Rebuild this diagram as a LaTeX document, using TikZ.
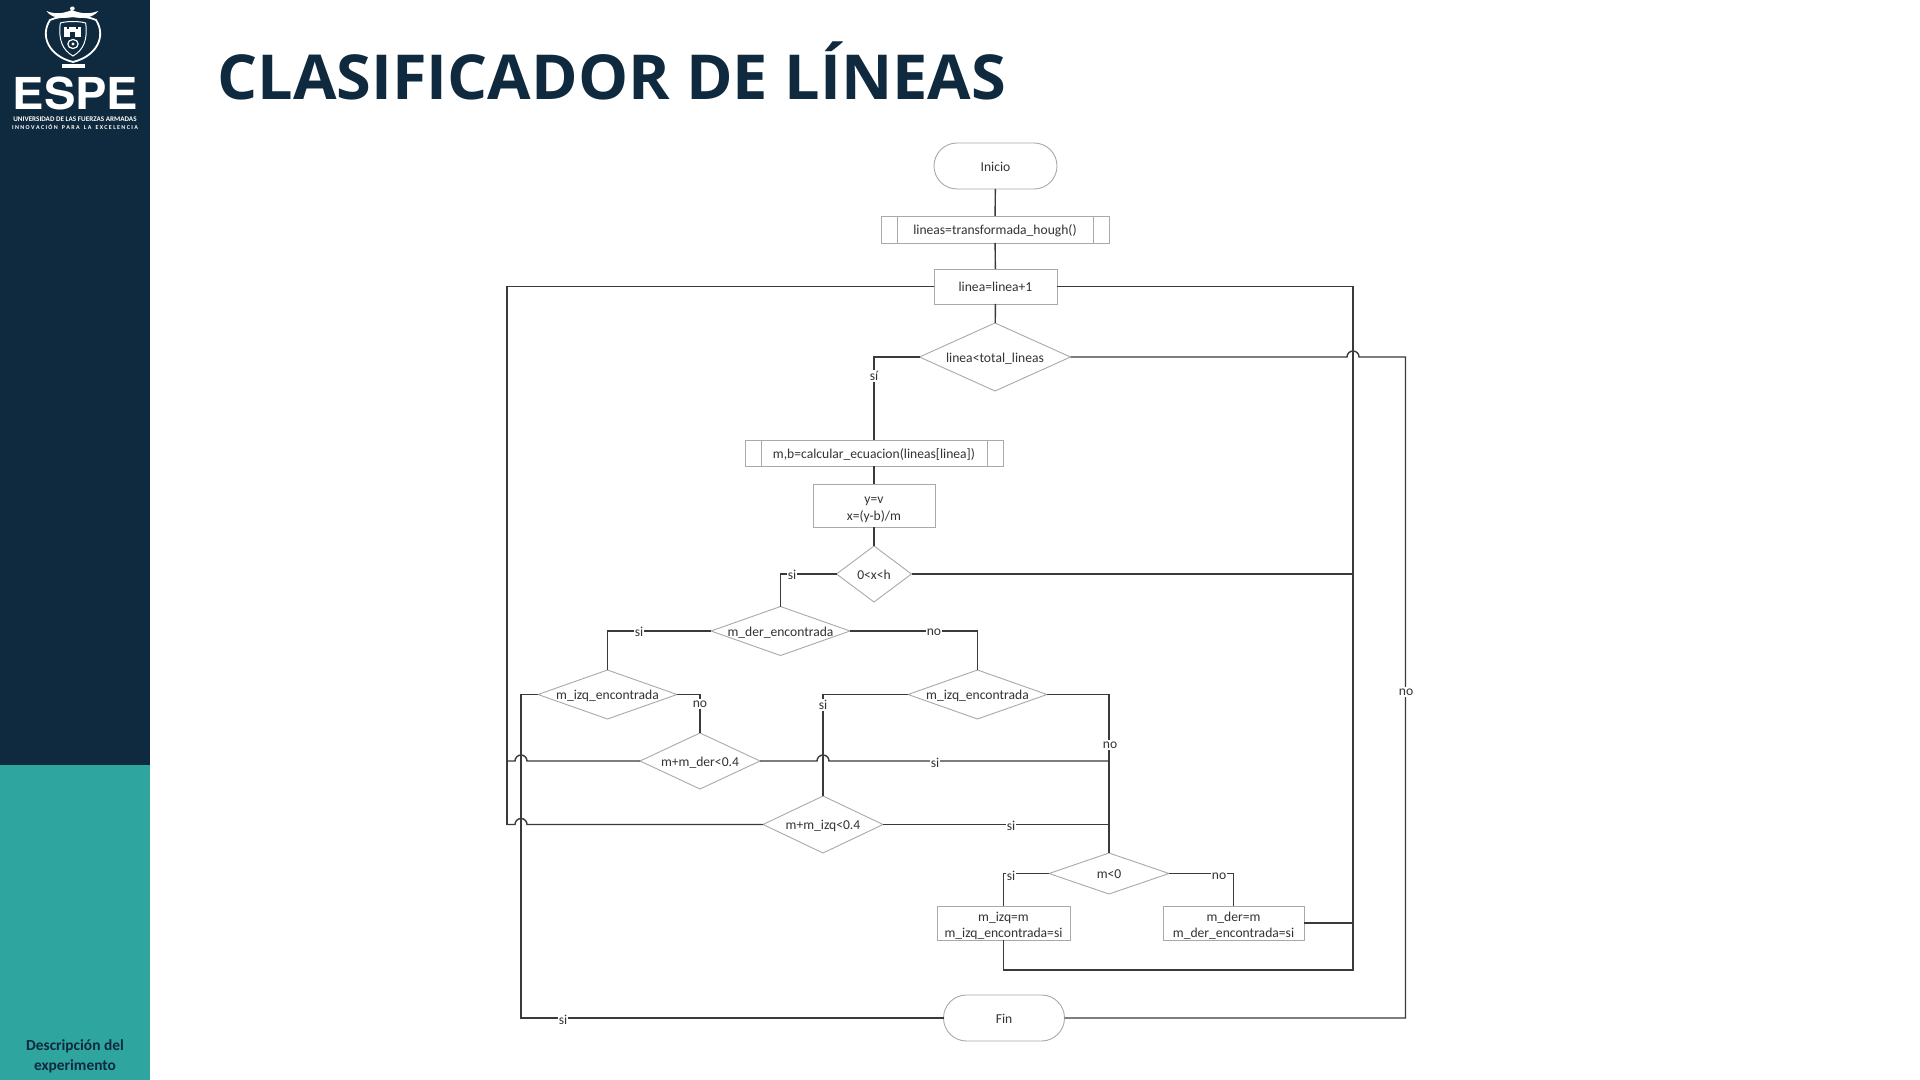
\documentclass[tikz,border=0pt]{standalone}
\usepackage{fontspec}
\setmainfont{Carlito}
\newfontfamily\titlefont{Open Sans}
\newfontfamily\logofont{TeX Gyre Heros}
\usetikzlibrary{shapes.geometric,calc}
\definecolor{navy}{HTML}{0F2A3E}
\definecolor{tealc}{HTML}{2FA5A0}
\definecolor{boxc}{HTML}{A9A9A9}
\definecolor{linec}{HTML}{3A3A3A}
\definecolor{txtc}{HTML}{333333}
\newcommand{\dtxt}[1]{\makebox[0pt]{\smash{\raisebox{-2.7pt}{#1}}}}
\newcommand{\toprule}{\rule{0pt}{7.6pt}}
\tikzset{
 x=0.5pt,y=-0.5pt,
 nodebase/.style={draw=boxc,line width=0.45pt,fill=white,text=txtc,font=\fontsize{6.8}{8.2}\selectfont,align=center,inner sep=0pt,outer sep=0pt},
 vfix/.style={execute at begin node={\rule{0pt}{7pt}},execute at end node={\rule[-1.5pt]{0pt}{1.5pt}}},
 dia/.style 2 args={nodebase,diamond,minimum width=#1*0.5pt,minimum height=#2*0.5pt,aspect=2},
 boxn/.style 2 args={nodebase,vfix,rectangle,minimum width=#1*0.5pt,minimum height=#2*0.5pt},
 boxtwo/.style 2 args={nodebase,rectangle,minimum width=#1*0.5pt,minimum height=#2*0.5pt},
 term/.style 2 args={nodebase,vfix,rectangle,rounded corners=#2*0.25pt-0.01pt,minimum width=#1*0.5pt,minimum height=#2*0.5pt},
 subp/.style n args={3}{nodebase,vfix,rectangle,minimum width=#1*0.5pt,minimum height=#2*0.5pt,
   path picture={\draw[boxc,line width=0.45pt] ([xshift=#3*0.5pt]path picture bounding box.north west) -- ([xshift=#3*0.5pt]path picture bounding box.south west);
   \draw[boxc,line width=0.45pt] ([xshift=-#3*0.5pt]path picture bounding box.north east) -- ([xshift=-#3*0.5pt]path picture bounding box.south east);}},
 conn/.style={draw=linec,line width=0.7pt,line join=miter},
 lab/.style={fill=white,text=txtc,font=\fontsize{6.8}{8.2}\selectfont,inner sep=0.6pt},
 logo/.style={draw=white,line width=0.6pt},
}
\begin{document}
\begin{tikzpicture}
\useasboundingbox (0,0) rectangle (1920,1080);
\fill[white] (0,0) rectangle (1920,1080);
\fill[navy] (0,0) rectangle (149.5,765);
\fill[tealc] (0,765) rectangle (149.5,1080);
% logo crest
\begin{scope}[xshift=36.5pt,xscale=1.15,xshift=-36.5pt]
\draw[logo,fill=navy,line width=0.9pt] (53,20) .. controls (44,36) and (52,56) .. (73,62) .. controls (94,56) and (102,36) .. (93,20) .. controls (84,15) and (62,15) .. (53,20) -- cycle;
\draw[logo,line width=0.5pt] (62,23) .. controls (60,40) and (64,50) .. (73,56) .. controls (82,50) and (86,40) .. (84,23) .. controls (78,21) and (68,21) .. (62,23) -- cycle;
\fill[white] (65,27) rectangle (80,37);
\fill[navy] (70.5,32) rectangle (74.5,37);
\fill[navy] (68,27) rectangle (69.5,29);
\fill[navy] (75.5,27) rectangle (77,29);
\draw[logo,line width=0.6pt] (73,44) circle[radius=4.5];
\fill[white] (73,44) circle[radius=1.5];
\fill[white] (50,11) .. controls (58,15) and (66,13) .. (72,10) .. controls (78,13) and (86,15) .. (95,11) .. controls (90,18) and (82,19) .. (73,17) .. controls (62,19) and (54,18) .. (50,11) -- cycle;
\fill[white] (72.5,8.5) circle[radius=2];
\fill[white] (63,64) rectangle (83,68);
\end{scope}
\node[text=white,font=\fontsize{22}{22}\logofont\bfseries,inner sep=0pt,xscale=1.07,anchor=base] (logoname) at (75.5,110) {ESPE};
\node[text=white,font=\fontsize{3.55}{4}\selectfont\bfseries,inner sep=0pt] (logouni) at (75,119) {UNIVERSIDAD DE LAS FUERZAS ARMADAS};
\node[text=white,font=\fontsize{3.0}{4}\selectfont\bfseries,inner sep=0pt] (logoinn) at (75,127.5) {I N N O V A C I Ó N \ \ P A R A \ \ L A \ \ E X C E L E N C I A};
\node[text=navy,font=\fontsize{7.7}{9.8}\selectfont\bfseries,align=center,inner sep=0pt] (side) at (75,1056) {Descripción del\\experimento};
\node[text=navy,font=\fontsize{31}{31}\titlefont\bfseries,anchor=west,inner sep=0pt,xscale=1.017] (title) at (217,71) {CLASIFICADOR DE LÍNEAS};
% nodes
\node[term={123}{46}] (ini) at (995.5,166) {Inicio};
\node[subp={228}{27}{16}] (hough) at (995,229.5) {lineas=transformada\_hough()};
\node[boxn={123}{35}] (inc) at (995.5,286.5) {linea=linea+1};
\node[dia={151}{68}] (dtot) at (995,357) {\dtxt{linea<total\_lineas}};
\node[subp={258}{26}{16}] (calc) at (874,453) {m,b=calcular\_ecuacion(lineas[linea])};
\node[boxtwo={122}{43}] (yv) at (874,505.5) {\toprule y=v\\x=(y-b)/m};
\node[dia={75}{56}] (dx) at (874,574) {\dtxt{0<x<h}};
\node[dia={139}{49}] (dder) at (780.5,631) {\dtxt{m\_der\_encontrada}};
\node[dia={139}{49}] (dizqa) at (607.5,694.5) {\dtxt{m\_izq\_encontrada}};
\node[dia={139}{49}] (dizqb) at (977.5,694.5) {\dtxt{m\_izq\_encontrada}};
\node[dia={120}{56}] (dsa) at (700,761) {\dtxt{m+m\_der<0.4}};
\node[dia={120}{57}] (dsb) at (823,824.5) {\dtxt{m+m\_izq<0.4}};
\node[dia={120}{41}] (dm) at (1109,873.5) {\dtxt{m<0}};
\node[boxtwo={133}{34}] (bizq) at (1003.5,923) {\toprule m\_izq=m\\m\_izq\_encontrada=si};
\node[boxtwo={141}{34}] (bder) at (1233.5,923) {\toprule m\_der=m\\m\_der\_encontrada=si};
\node[term={121}{46}] (fin) at (1004,1018) {Fin};
% free points
\coordinate (leftbus) at (507,286.5);
\coordinate (rightbus) at (1353,286.5);
\coordinate (merge) at (1109,761);
\coordinate (mergeb) at (1109,824.5);
% connectors
\draw[conn] (ini) -- (hough);
\draw[conn] (hough) -- (inc);
\draw[conn] (inc) -- (dtot);
\draw[conn] (inc.west) -- (leftbus);
\draw[conn] (inc.east) -- (rightbus) -- (1353,970) -- (1003.5,970) -- (bizq.south);
\draw[conn] (dtot.west) -| (calc.north);
\draw[conn] (calc) -- (yv);
\draw[conn] (yv) -- (dx);
\draw[conn] (dx.east) -- (1353,574);
\draw[conn] (dx.west) -| (dder.north);
\draw[conn] (dder.west) -| (dizqa.north);
\draw[conn] (dder.east) -| (dizqb.north);
\draw[conn] (dizqa.east) -| (dsa.north);
\draw[conn] (dizqb.west) -| (dsb.north);
\draw[conn] (dizqb.east) -| (dm.north);
% jumps
\draw[conn] (dtot.east) -- (1347,357) arc[start angle=180,end angle=0,x radius=6,y radius=-6] -- (1405.5,357) |- (fin.east);
\draw[conn] (dsa.west) -- (527,761) arc[start angle=0,end angle=180,x radius=6,y radius=-6] -- (507,761);
\draw[conn] (dsb.west) -- (527,824.5) arc[start angle=0,end angle=180,x radius=6,y radius=-6] -- (507,824.5);
\draw[conn] (leftbus) -- (507,824.5) -- (515,824.5);
\draw[conn] (dsa.east) -- (817,761) arc[start angle=180,end angle=0,x radius=6,y radius=-6] -- (merge);
\draw[conn] (dsb.east) -- (mergeb);
\draw[conn] (dizqa.west) -| (521,1018) -- (fin.west);
\draw[conn] (dm.west) -| (bizq.north);
\draw[conn] (dm.east) -| (bder.north);
\draw[conn] (bder.east) -- (1353,923);
% labels
\node[lab] (l1) at (874,376) {sí};
\node[lab] (l2) at (792,575) {si};
\node[lab] (l3) at (639,632) {si};
\node[lab] (l4) at (934,632) {no};
\node[lab] (l5) at (700,704) {no};
\node[lab] (l6) at (823,705) {si};
\node[lab] (l7) at (935,763) {si};
\node[lab] (l8) at (1110,745) {no};
\node[lab] (l9) at (1011,826) {si};
\node[lab] (l10) at (1011,876) {si};
\node[lab] (l11) at (1219,876) {no};
\node[lab] (l12) at (1406,692) {no};
\node[lab] (l13) at (563,1020) {si};
\end{tikzpicture}
\end{document}
